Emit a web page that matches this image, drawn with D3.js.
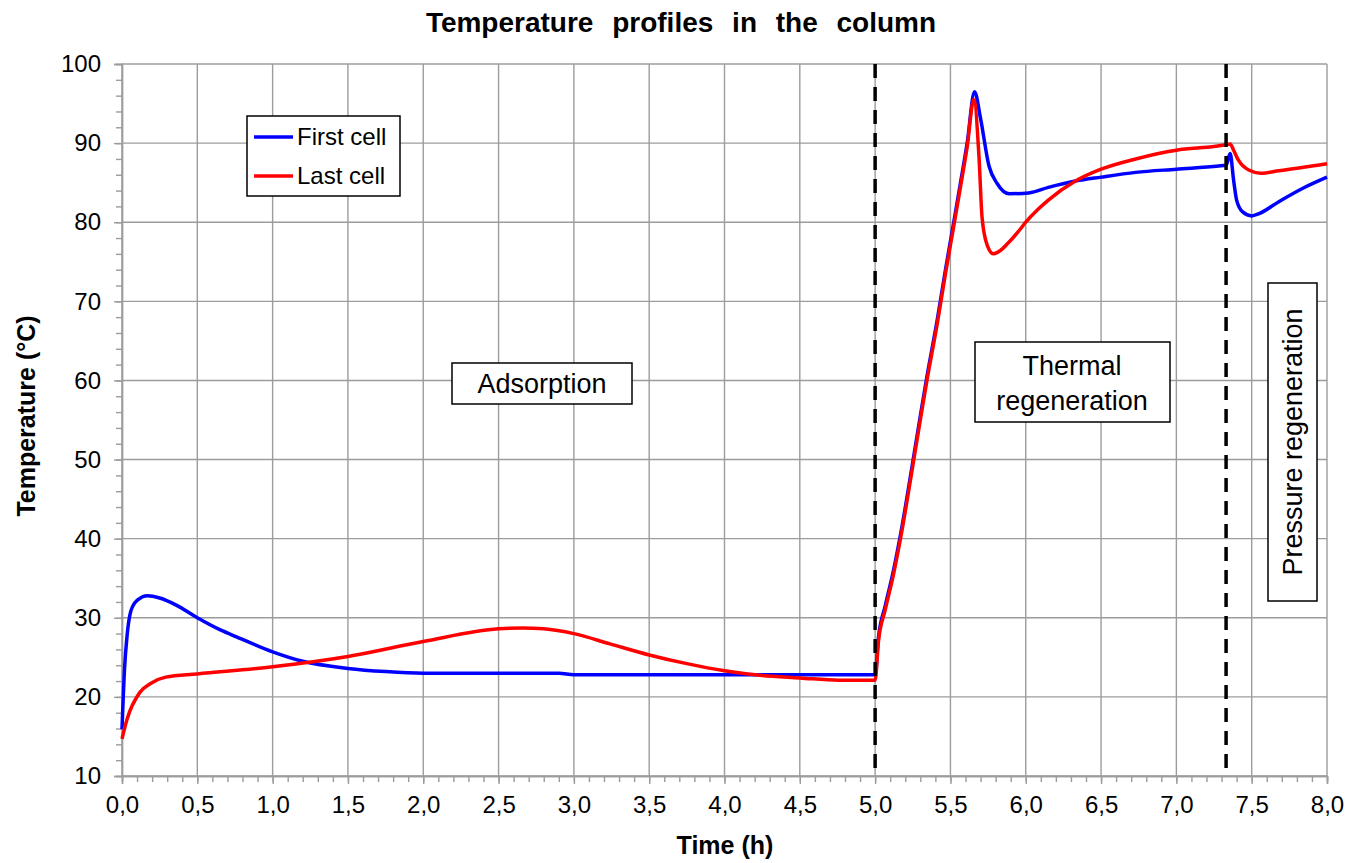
<!DOCTYPE html>
<html>
<head>
<meta charset="utf-8">
<script src="https://cdn.jsdelivr.net/npm/d3@7"></script>
<style>
  body { margin: 0; background: #fff; }
  text { font-family: "Liberation Sans", Arial, sans-serif; }
</style>
</head>
<body>
<div id="chart"></div>
<script>
// First cell (blue)
const timeFirst = [0, 0.017, 0.034, 0.058, 0.10, 0.17, 0.25, 0.36, 0.5, 0.66, 0.76, 1.0, 1.2, 1.5, 1.75, 2.0, 2.9, 3.0, 4.0, 5.0,
    5.022, 5.067, 5.122, 5.178, 5.244, 5.3, 5.344, 5.411, 5.467, 5.522, 5.567, 5.611, 5.66,
    5.70, 5.756, 5.81, 5.89, 6.02, 6.15, 6.33, 6.5, 6.73, 7.0, 7.28, 7.33, 7.357, 7.38, 7.40, 7.44, 7.5, 7.55, 7.68, 7.84, 8.0];
const tempFirst = [15.9, 23.6, 27.8, 30.8, 32.2, 32.8, 32.5, 31.6, 30.0, 28.4, 27.6, 25.7, 24.5, 23.6, 23.2, 23.0, 23.0, 22.8, 22.8, 22.8,
    27.5, 31.5, 36, 41.5, 49, 55.5, 60.5, 67.5, 74, 80, 85, 90, 96.5,
    93.1, 87.1, 84.9, 83.6, 83.7, 84.4, 85.2, 85.7, 86.3, 86.7, 87.1, 87.2, 88.7, 85.3, 82.8, 81.3, 80.8, 81.1, 82.6, 84.3, 85.7];

// Last cell (red)
const timeLast = [0, 0.034, 0.12, 0.19, 0.29, 0.5, 1.0, 1.5, 2.0, 2.5, 2.66, 2.8, 3.0, 3.24, 3.5, 3.75, 4.0, 4.25, 4.5, 4.76, 5.0,
    5.022, 5.067, 5.122, 5.178, 5.244, 5.3, 5.344, 5.411, 5.467, 5.522, 5.567, 5.611, 5.655,
    5.69, 5.71, 5.744, 5.785, 5.83, 5.88, 5.95, 6.0, 6.08, 6.15, 6.33, 6.5, 6.73, 7.0, 7.26, 7.33, 7.357, 7.38, 7.41, 7.48, 7.56, 7.68, 8.0];
const tempLast = [14.7, 17.2, 20.6, 21.7, 22.5, 22.9, 23.8, 25.1, 27.0, 28.6, 28.7, 28.6, 28.0, 26.7, 25.3, 24.2, 23.3, 22.7, 22.4, 22.1, 22.1,
    27, 31, 35.5, 41, 48.5, 55, 60, 67, 73.5, 79.5, 84.5, 89.5, 95.5,
    88.1, 80.6, 77.1, 76.0, 76.4, 77.3, 78.8, 80.0, 81.6, 82.8, 85.2, 86.7, 88.0, 89.1, 89.6, 89.8, 89.9, 89.1, 87.9, 86.6, 86.2, 86.5, 87.4];

const seriesNames = ["First cell", "Last cell"];
const seriesColors = ["#0000ff", "#ff0000"];
const phaseLimits = [5.0, 7.33];
const xTicks = [0, 0.5, 1, 1.5, 2, 2.5, 3, 3.5, 4, 4.5, 5, 5.5, 6, 6.5, 7, 7.5, 8];
const yTicks = [10, 20, 30, 40, 50, 60, 70, 80, 90, 100];

// Kích thước
const margin = { top: 64, right: 36, bottom: 87, left: 122 };
const width = 1363 - margin.left - margin.right;
const height = 863 - margin.top - margin.bottom;

const root = d3.select("#chart")
    .append("svg")
    .attr("width", 1363)
    .attr("height", 863);

const svg = root.append("g")
    .attr("transform", `translate(${margin.left},${margin.top})`);

// Tiêu đề
root.append("text")
    .attr("x", 681)
    .attr("y", 32)
    .attr("text-anchor", "middle")
    .style("font-size", "28px")
    .style("font-weight", "bold")
    .style("word-spacing", "11px")
    .text("Temperature profiles in the column");

// Thang đo
const x = d3.scaleLinear().domain([0, 8]).range([0, width]);
const y = d3.scaleLinear().domain([10, 100]).range([height, 0]);

const gridColor = "#9c9c9c";

// Lưới
svg.append("g").selectAll("line")
    .data(xTicks)
    .enter().append("line")
    .attr("x1", d => x(d)).attr("x2", d => x(d))
    .attr("y1", 0).attr("y2", height)
    .attr("stroke", gridColor)
    .attr("stroke-width", 1.4);

svg.append("g").selectAll("line")
    .data(yTicks)
    .enter().append("line")
    .attr("x1", 0).attr("x2", width)
    .attr("y1", d => y(d)).attr("y2", d => y(d))
    .attr("stroke", gridColor)
    .attr("stroke-width", 1.4);

// Trục X
const xMinor = svg.append("g")
    .attr("transform", `translate(0,${height})`)
    .call(d3.axisBottom(x).tickValues(d3.range(0, 81).map(i => i / 10)).tickSize(6).tickFormat(""));
const xAxis = svg.append("g")
    .attr("transform", `translate(0,${height})`)
    .call(d3.axisBottom(x).tickValues(xTicks).tickSize(8).tickPadding(12)
        .tickFormat(d => d.toFixed(1).replace(".", ",")));

// Trục Y
const yMinor = svg.append("g")
    .call(d3.axisLeft(y).tickValues(d3.range(10, 101, 2)).tickSize(6).tickFormat(""));
const yAxis = svg.append("g")
    .call(d3.axisLeft(y).tickValues(yTicks).tickSize(8).tickPadding(13).tickFormat(d3.format("d")));

[xMinor, xAxis, yMinor, yAxis].forEach(g => {
    g.select(".domain").attr("stroke", gridColor).attr("stroke-width", 1.4);
    g.selectAll(".tick line").attr("stroke", gridColor).attr("stroke-width", 1.4);
    g.selectAll(".tick text")
        .attr("fill", "#000")
        .style("font-size", "24px")
        .style("font-family", "'Liberation Sans', Arial, sans-serif");
});

// Nhãn trục
root.append("text")
    .attr("x", 725)
    .attr("y", 854)
    .attr("text-anchor", "middle")
    .style("font-size", "25px")
    .style("font-weight", "bold")
    .text("Time (h)");

root.append("text")
    .attr("transform", "translate(35,416) rotate(-90)")
    .attr("text-anchor", "middle")
    .style("font-size", "25px")
    .style("font-weight", "bold")
    .text("Temperature (°C)");

// Đường
const line = d3.line()
    .x(d => x(d[0]))
    .y(d => y(d[1]))
    .curve(d3.curveMonotoneX);

const series = [
    d3.zip(timeFirst, tempFirst),
    d3.zip(timeLast, tempLast)
];

series.forEach((pts, i) => {
    svg.append("path")
        .datum(pts)
        .attr("fill", "none")
        .attr("stroke", seriesColors[i])
        .attr("stroke-width", 3.5)
        .attr("stroke-linejoin", "round")
        .attr("d", line);
});

// Vạch phân pha
svg.selectAll(".phase")
    .data(phaseLimits)
    .enter().append("line")
    .attr("class", "phase")
    .attr("x1", d => x(d)).attr("x2", d => x(d))
    .attr("y1", 0).attr("y2", height)
    .attr("stroke", "#000")
    .attr("stroke-width", 3.5)
    .attr("stroke-dasharray", "14,9");

// Chú giải
const legend = svg.append("g").attr("transform", "translate(125,52)");
legend.append("rect")
    .attr("width", 153).attr("height", 80)
    .attr("fill", "#fff").attr("stroke", "#000").attr("stroke-width", 1.5);
seriesNames.forEach((name, i) => {
    const ly = 21 + i * 39;
    legend.append("line")
        .attr("x1", 7).attr("x2", 46)
        .attr("y1", ly).attr("y2", ly)
        .attr("stroke", seriesColors[i])
        .attr("stroke-width", 3.5);
    legend.append("text")
        .attr("x", 50).attr("y", ly + 8)
        .style("font-size", "24px")
        .text(name);
});

// Hộp chú thích
function noteBox(bx, by, bw, bh) {
    svg.append("rect")
        .attr("x", bx).attr("y", by)
        .attr("width", bw).attr("height", bh)
        .attr("fill", "#fff").attr("stroke", "#000").attr("stroke-width", 1.5);
}

noteBox(330, 299, 180, 41);
svg.append("text")
    .attr("x", 420).attr("y", 329)
    .attr("text-anchor", "middle")
    .style("font-size", "27px")
    .text("Adsorption");

noteBox(853, 278, 195, 80);
svg.append("text")
    .attr("x", 950).attr("y", 311)
    .attr("text-anchor", "middle")
    .style("font-size", "27px")
    .text("Thermal");
svg.append("text")
    .attr("x", 950).attr("y", 346)
    .attr("text-anchor", "middle")
    .style("font-size", "27px")
    .text("regeneration");

noteBox(1146, 219, 49, 318);
svg.append("text")
    .attr("transform", "translate(1180,378) rotate(-90)")
    .attr("text-anchor", "middle")
    .style("font-size", "27px")
    .text("Pressure regeneration");
</script>
</body>
</html>
